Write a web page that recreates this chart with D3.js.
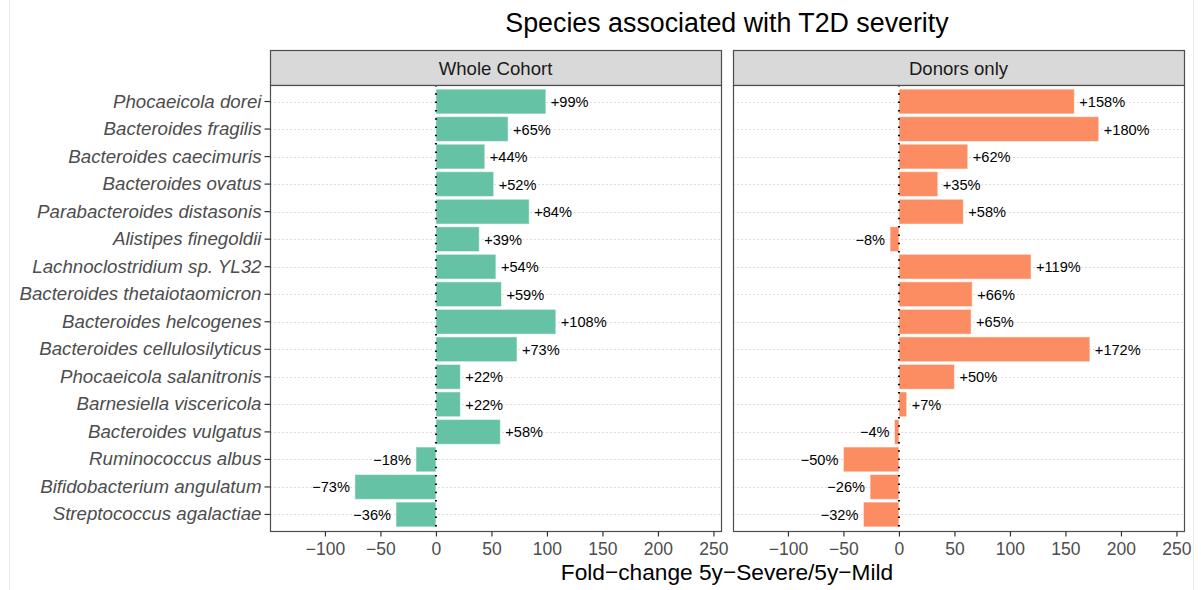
<!DOCTYPE html>
<html><head><meta charset="utf-8">
<script src="https://cdn.jsdelivr.net/npm/d3@7"></script>
<style>body{margin:0;background:#fff;}svg{display:block;font-family:"Liberation Sans",Arial,Helvetica,sans-serif;}</style>
</head><body>
<svg id="chart" width="1201" height="590"></svg>
<script>
const species = ["Phocaeicola dorei","Bacteroides fragilis","Bacteroides caecimuris","Bacteroides ovatus","Parabacteroides distasonis","Alistipes finegoldii","Lachnoclostridium sp. YL32","Bacteroides thetaiotaomicron","Bacteroides helcogenes","Bacteroides cellulosilyticus","Phocaeicola salanitronis","Barnesiella viscericola","Bacteroides vulgatus","Ruminococcus albus","Bifidobacterium angulatum","Streptococcus agalactiae"];
const wholeCohort = [99,65,44,52,84,39,54,59,108,73,22,22,58,-18,-73,-36];
const donorsOnly = [158,180,62,35,58,-8,119,66,65,172,50,7,-4,-50,-26,-32];
const panels = ["Whole Cohort","Donors only"];
const colors = ["#66c2a5","#fc8d62"];
const xTicks = [-100,-50,0,50,100,150,200,250];
const title = "Species associated with T2D severity";
const xTitle = "Fold\u2212change 5y\u2212Severe/5y\u2212Mild";

(function(){
const svg = d3.select("#chart");
svg.append("line").attr("x1",9.5).attr("x2",9.5).attr("y1",0).attr("y2",590).attr("stroke","#ebebeb");
svg.append("line").attr("x1",1193.5).attr("x2",1193.5).attr("y1",0).attr("y2",590).attr("stroke","#ebebeb");

const panelX = [[270,721],[733,1184]];
const pTop = 85, pBottom = 531, stripTop = 50;
const y = d3.scaleBand().domain(species).range([pTop,pBottom]).paddingOuter(0.1).paddingInner(0);
const barH = y.bandwidth()*0.9;
const fmt = v => (v>=0?"+":"\u2212") + Math.abs(v) + "%";
const data = [wholeCohort, donorsOnly];

panels.forEach((p,i)=>{
  const [x0,x1] = panelX[i];
  const x = d3.scaleLinear().domain([-149.5,256.8]).range([x0,x1]);
  const g = svg.append("g");
  g.append("rect").attr("x",x0+0.5).attr("y",stripTop+0.5).attr("width",x1-x0).attr("height",pTop-stripTop)
    .attr("fill","#d9d9d9").attr("stroke","#4d4d4d").attr("stroke-width",1.2);
  g.append("text").attr("x",(x0+x1)/2).attr("y",(stripTop+pTop)/2+7).attr("text-anchor","middle")
    .attr("font-size",18.6).attr("fill","#1a1a1a").text(p);
  g.append("rect").attr("x",x0+0.5).attr("y",pTop+0.5).attr("width",x1-x0).attr("height",pBottom-pTop).attr("fill","#fff");
  g.selectAll(".grid").data(species).enter().append("line")
    .attr("x1",x0).attr("x2",x1)
    .attr("y1",d=>Math.round(y(d)+y.bandwidth()/2)+0.5).attr("y2",d=>Math.round(y(d)+y.bandwidth()/2)+0.5)
    .attr("stroke","#cfcfcf").attr("stroke-width",0.7).attr("stroke-dasharray","2,2");
  const vals = data[i];
  g.selectAll(".bar").data(species).enter().append("rect")
    .attr("x",(d,j)=>x(Math.min(0,vals[j])))
    .attr("width",(d,j)=>Math.abs(x(vals[j])-x(0)))
    .attr("y",d=>y(d)+y.bandwidth()/2-barH/2)
    .attr("height",barH)
    .attr("fill",colors[i]).attr("stroke","#ffffff").attr("stroke-opacity",0.5).attr("stroke-width",1);
  g.append("line").attr("x1",x(0)).attr("x2",x(0)).attr("y1",pTop).attr("y2",pBottom)
    .attr("stroke","#000").attr("stroke-width",2).attr("stroke-dasharray","1.5,6.8").attr("stroke-linecap","butt");
  g.selectAll(".lbl").data(species).enter().append("text")
    .attr("x",(d,j)=> vals[j]>=0 ? x(vals[j])+5 : x(vals[j])-5)
    .attr("y",d=>y(d)+y.bandwidth()/2+5.5)
    .attr("text-anchor",(d,j)=> vals[j]>=0?"start":"end")
    .attr("font-size",14.6).attr("fill","#000").text((d,j)=>fmt(vals[j]));
  g.append("rect").attr("x",x0+0.5).attr("y",pTop+0.5).attr("width",x1-x0).attr("height",pBottom-pTop)
    .attr("fill","none").attr("stroke","#4d4d4d").attr("stroke-width",1.2);
  const ax = g.append("g").attr("transform",`translate(0,${pBottom+0.5})`)
    .call(d3.axisBottom(x).tickValues(xTicks).tickSize(5).tickPadding(6).tickFormat(v=> v<0 ? "\u2212"+Math.abs(v) : v));
  ax.select(".domain").remove();
  ax.selectAll(".tick line").attr("stroke","#333").attr("stroke-width",1.2);
  ax.selectAll(".tick text").attr("font-size",17.5).attr("fill","#4d4d4d").attr("font-family","Liberation Sans, Arial, sans-serif");
  if(i===0){
    const ay = g.append("g").attr("transform",`translate(${x0+0.5},0)`)
      .call(d3.axisLeft(y).tickSize(6).tickPadding(3));
    ay.select(".domain").remove();
    ay.selectAll(".tick line").attr("stroke","#333").attr("stroke-width",1.2);
    ay.selectAll(".tick text").attr("font-size",18.7).attr("fill","#4d4d4d").attr("font-style","italic")
      .attr("font-family","Liberation Sans, Arial, sans-serif");
  }
});

svg.append("text").attr("x",727).attr("y",32).attr("text-anchor","middle").attr("font-size",26.8).attr("fill","#000").text(title);
svg.append("text").attr("x",727).attr("y",580).attr("text-anchor","middle").attr("font-size",22.7).attr("fill","#000").text(xTitle);
})();
</script>
</body></html>
